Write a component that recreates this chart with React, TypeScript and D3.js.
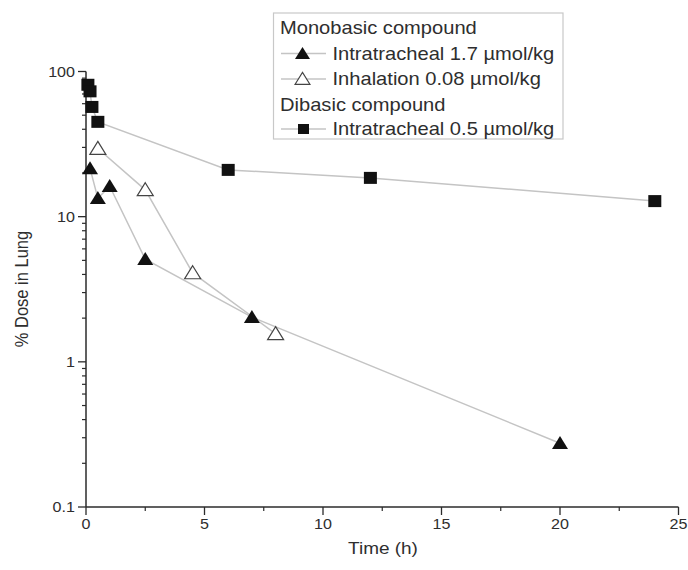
import React from "react";
import * as d3 from "d3";

const timeDibasicIT = [0.08, 0.17, 0.25, 0.5, 6, 12, 24];
const doseDibasicIT = [81, 73, 57, 45, 21, 18.5, 12.8];
const timeMonoIT = [0.17, 0.5, 1, 2.5, 7, 20];
const doseMonoIT = [21.5, 13.4, 16.2, 5.1, 2.03, 0.275];
const timeMonoInh = [0.5, 2.5, 4.5, 8];
const doseMonoInh = [29.5, 15.3, 4.1, 1.56];
const xTicks = [0, 5, 10, 15, 20, 25];
const yTicks = [0.1, 1, 10, 100];
const yTickLabels = ["0.1", "1", "10", "100"];

const W = 688;
const H = 570;
const SX = 1.15;
const FONT = "'Liberation Sans', Arial, Helvetica, sans-serif";

const x = d3.scaleLinear().domain([0, 25]).range([86, 678.5]);
const y = d3.scaleLog().domain([0.1, 100]).range([507, 71.5]);

const line = d3
  .line<[number, number]>()
  .x((d) => x(d[0]))
  .y((d) => y(d[1]));

const zip = (a: number[], b: number[]) => a.map((t, i) => [t, b[i]] as [number, number]);

const triPath = (cx: number, cy: number, w = 16, h = 13) =>
  `M${cx},${cy - h * 0.55}L${cx + w / 2},${cy + h * 0.45}L${cx - w / 2},${cy + h * 0.45}Z`;

function T({ x, y, anchor = "start", size = 14, children, fill = "#2e2e2e" }: any) {
  return (
    <text
      transform={`translate(${x},${y}) scale(${SX},1)`}
      textAnchor={anchor}
      fontSize={size}
      fontFamily={FONT}
      fill={fill}
    >
      {children}
    </text>
  );
}

export default function App() {
  const dib = zip(timeDibasicIT, doseDibasicIT);
  const mit = zip(timeMonoIT, doseMonoIT);
  const inh = zip(timeMonoInh, doseMonoInh);

  const minorY: number[] = [];
  for (let dec = 0.1; dec < 100; dec *= 10) {
    for (let k = 2; k <= 9; k++) minorY.push(+(dec * k).toPrecision(3));
  }
  const minorX = [2.5, 7.5, 12.5, 17.5, 22.5];

  const lineColor = "#c4c4c4";
  const axisColor = "#2b2b2b";

  const legendRows = [33.5, 59.5, 85, 110.5, 135];

  return (
    <svg
      width={W}
      height={H}
      style={{ position: "absolute", left: 0, top: 0, background: "#fff" }}
    >
      <rect x={0} y={0} width={W} height={H} fill="#fff" />
      {/* series lines */}
      <path d={line(dib) || ""} fill="none" stroke={lineColor} strokeWidth={1.5} />
      <path d={line(mit) || ""} fill="none" stroke={lineColor} strokeWidth={1.5} />
      <path d={line(inh) || ""} fill="none" stroke={lineColor} strokeWidth={1.5} />

      {/* axes */}
      <line x1={x(0)} x2={x(0)} y1={y(100)} y2={y(0.1)} stroke={axisColor} strokeWidth={1.5} />
      <line x1={x(0)} x2={x(25)} y1={y(0.1)} y2={y(0.1)} stroke={axisColor} strokeWidth={1.5} />
      {yTicks.map((t, i) => (
        <g key={"yt" + t}>
          <line x1={x(0) - 8} x2={x(0)} y1={y(t)} y2={y(t)} stroke={axisColor} strokeWidth={1.3} />
          <T x={x(0) - 11} y={y(t) + 5} anchor="end">
            {yTickLabels[i]}
          </T>
        </g>
      ))}
      {minorY.map((t) => (
        <line key={"ym" + t} x1={x(0) - 4} x2={x(0)} y1={y(t)} y2={y(t)} stroke={axisColor} strokeWidth={1.2} />
      ))}
      {xTicks.map((t) => (
        <g key={"xt" + t}>
          <line x1={x(t)} x2={x(t)} y1={y(0.1)} y2={y(0.1) + 8} stroke={axisColor} strokeWidth={1.3} />
          <T x={x(t)} y={y(0.1) + 22} anchor="middle">
            {t}
          </T>
        </g>
      ))}
      {minorX.map((t) => (
        <line key={"xm" + t} x1={x(t)} x2={x(t)} y1={y(0.1)} y2={y(0.1) + 4} stroke={axisColor} strokeWidth={1.2} />
      ))}

      {/* axis titles */}
      <T x={383} y={554} anchor="middle" size={16.5}>
        Time (h)
      </T>
      <text
        transform={`translate(28,289) scale(${SX},1) rotate(-90)`}
        textAnchor="middle"
        fontSize={16.5}
        fontFamily={FONT}
        fill="#2e2e2e"
      >
        % Dose in Lung
      </text>

      {/* markers */}
      {dib.map(([t, v], i) => (
        <rect key={"sq" + i} x={x(t) - 6.5} y={y(v) - 6} width={13} height={12} fill="#111" />
      ))}
      {inh.map(([t, v], i) => (
        <path key={"ot" + i} d={triPath(x(t), y(v))} fill="#fff" stroke="#444" strokeWidth={1.2} />
      ))}
      {mit.map(([t, v], i) => (
        <path key={"ft" + i} d={triPath(x(t), y(v))} fill="#111" />
      ))}

      {/* legend */}
      <rect x={273.5} y={13} width={289.5} height={126} fill="#fff" stroke="#c8c8c8" strokeWidth={1.2} />
      <T x={280} y={legendRows[0]} size={17.5}>Monobasic compound</T>
      <line x1={281} x2={326} y1={legendRows[1] - 6} y2={legendRows[1] - 6} stroke={lineColor} strokeWidth={1.5} />
      <path d={triPath(302.5, legendRows[1] - 6, 15, 12)} fill="#111" />
      <T x={332.5} y={legendRows[1]} size={17.5}>Intratracheal 1.7 µmol/kg</T>
      <line x1={281} x2={326} y1={legendRows[2] - 6} y2={legendRows[2] - 6} stroke={lineColor} strokeWidth={1.5} />
      <path d={triPath(302.5, legendRows[2] - 6, 15, 12)} fill="#fff" stroke="#444" strokeWidth={1.1} />
      <T x={332.5} y={legendRows[2]} size={17.5}>Inhalation 0.08 µmol/kg</T>
      <T x={280} y={legendRows[3]} size={17.5}>Dibasic compound</T>
      <line x1={281} x2={326} y1={legendRows[4] - 6} y2={legendRows[4] - 6} stroke={lineColor} strokeWidth={1.5} />
      <rect x={298} y={legendRows[4] - 11} width={11} height={10} fill="#111" />
      <T x={332.5} y={legendRows[4]} size={17.5}>Intratracheal 0.5 µmol/kg</T>
    </svg>
  );
}
